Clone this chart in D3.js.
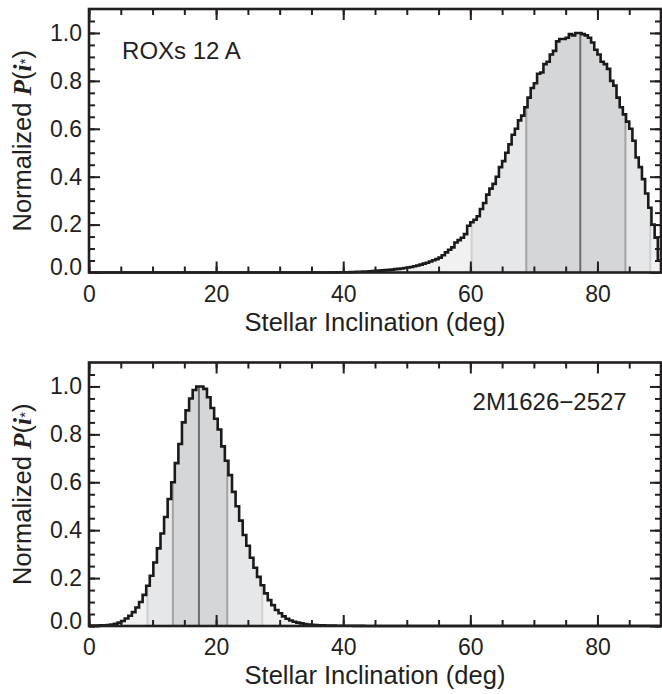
<!DOCTYPE html>
<html>
<head>
<meta charset="utf-8">
<script src="https://cdn.jsdelivr.net/npm/d3@7"></script>
<style>
  body { margin: 0; background: #fff; }
  text { font-family: "Liberation Sans", Arial, sans-serif; fill: #231f20; }
</style>
</head>
<body>
<div id="chart"></div>
<script>
// ... histogram of stellar inclination, ROXs 12 A (0.5 deg bins starting at 0 deg)
const roxBinWidth = 0.5;
const roxValues = [
  0, 0, 0, 0, 0, 0, 0, 0, 0, 0, 0, 0, 0, 0, 0, 0, 0, 0, 0, 0,
  0, 0, 0, 0, 0, 0, 0, 0, 0, 0, 0, 0, 0, 0, 0, 0, 0, 0, 0, 0,
  0, 0, 0, 0, 0, 0, 0, 0, 0, 0, 0, 0, 0, 0, 0, 0, 0, 0, 0, 0,
  0, 0, 0, 0, 0, 0, 0, 0, 0, 0, 0, 0, 0, 0, 0, 0, 0.0005, 0.0005, 0.001, 0.001,
  0.001, 0.001, 0.002, 0.002, 0.003, 0.003, 0.004, 0.004, 0.005, 0.006,
  0.007, 0.008, 0.009, 0.010, 0.011, 0.012, 0.014, 0.015, 0.017, 0.019,
  0.021, 0.023, 0.026, 0.029, 0.033, 0.037, 0.041, 0.046, 0.051, 0.056,
  0.062, 0.072, 0.084, 0.095, 0.105, 0.125, 0.135, 0.145, 0.160, 0.195,
  0.210, 0.220, 0.235, 0.265, 0.290, 0.325, 0.350, 0.370, 0.400, 0.440,
  0.465, 0.500, 0.535, 0.575, 0.600, 0.635, 0.655, 0.690, 0.730, 0.770,
  0.790, 0.830, 0.835, 0.870, 0.880, 0.910, 0.925, 0.965, 0.975, 0.975,
  0.980, 0.995, 0.990, 1.000, 1.000, 0.995, 0.990, 0.980, 0.960, 0.930,
  0.910, 0.880, 0.870, 0.850, 0.800, 0.780, 0.730, 0.690, 0.660, 0.630,
  0.600, 0.550, 0.480, 0.440, 0.390, 0.330, 0.270, 0.200, 0.145, 0.050
];
// -2 sigma, -1 sigma, median, +1 sigma, +2 sigma (deg)
const roxBounds = [60.2, 68.8, 77.3, 84.4, 88.3];

// ... histogram of stellar inclination, 2M1626-2527 (90/160 deg bins starting at 0 deg)
const twoMBinWidth = 0.5625;
const twoMValues = [
  0.002, 0.002, 0.002, 0.003, 0.003, 0.004, 0.006, 0.009, 0.014, 0.021,
  0.031, 0.043, 0.058, 0.077, 0.100, 0.130, 0.168, 0.210, 0.265, 0.324,
  0.386, 0.455, 0.530, 0.600, 0.680, 0.760, 0.850, 0.900, 0.950, 0.985,
  1.000, 1.000, 0.990, 0.955, 0.910, 0.865, 0.820, 0.750, 0.690, 0.630,
  0.560, 0.500, 0.440, 0.380, 0.335, 0.285, 0.243, 0.205, 0.170, 0.136,
  0.108, 0.087, 0.067, 0.053, 0.040, 0.030, 0.023, 0.018, 0.014, 0.011,
  0.008, 0.006, 0.005, 0.004, 0.003, 0.003, 0.002, 0.002, 0.002, 0.001,
  0.001, 0.001, 0.001, 0.001, 0.0005, 0.0005, 0.0005, 0, 0, 0,
  0, 0, 0, 0, 0, 0, 0, 0, 0, 0, 0, 0, 0, 0, 0, 0, 0, 0, 0, 0,
  0, 0, 0, 0, 0, 0, 0, 0, 0, 0, 0, 0, 0, 0, 0, 0, 0, 0, 0, 0,
  0, 0, 0, 0, 0, 0, 0, 0, 0, 0, 0, 0, 0, 0, 0, 0, 0, 0, 0, 0,
  0, 0, 0, 0, 0, 0, 0, 0, 0, 0, 0, 0, 0, 0, 0, 0, 0, 0, 0, 0
];
const twoMBounds = [9.2, 13.2, 17.3, 21.75, 27.25];

const xTicks = [0, 20, 40, 60, 80];
const yTicks = [0.0, 0.2, 0.4, 0.6, 0.8, 1.0];
const starNames = ['ROXs 12 A', '2M1626\u22122527'];
const xTitle = 'Stellar Inclination (deg)';

const W = 662, H = 694;
const margin = {left: 89, right: 1};
const width = W - margin.left - margin.right;
const height = 263.5;
const ink = '#231f20';

const svg = d3.select('#chart').append('svg')
    .attr('width', W)
    .attr('height', H);

const panels = [
    {id: 'rox', name: starNames[0], values: roxValues, binWidth: roxBinWidth, bounds: roxBounds,
     top: 9, label: [5.2, 0.893], anchor: 'start'},
    {id: 'twom', name: starNames[1], values: twoMValues, binWidth: twoMBinWidth, bounds: twoMBounds,
     top: 362.5, label: [84.6, 0.9], anchor: 'end'}
];

panels.forEach(drawPanel);

function drawPanel(p) {
    const g = svg.append('g')
        .attr('transform', 'translate(' + margin.left + ',' + p.top + ')');

    const x = d3.scaleLinear().domain([0, 90]).range([0, width]);
    const y = d3.scaleLinear().domain([0, 1.1]).range([height, 0]);

    const pts = p.values.map((v, i) => [i * p.binWidth, v]);
    pts.push([90, p.values[p.values.length - 1]]);

    const area = d3.area()
        .x(d => x(d[0]))
        .y0(y(0))
        .y1(d => y(d[1]))
        .curve(d3.curveStepAfter);

    const line = d3.line()
        .x(d => x(d[0]))
        .y(d => y(d[1]))
        .curve(d3.curveStepAfter);

    const b = p.bounds;
    const bands = [
        {from: 0, to: 90, fill: '#f1f1f2'},
        {from: b[0], to: b[4], fill: '#e6e7e8'},
        {from: b[1], to: b[3], fill: '#d5d6d8'}
    ];

    const defs = g.append('defs');
    bands.forEach((band, k) => {
        defs.append('clipPath')
            .attr('id', p.id + '-band' + k)
            .append('rect')
            .attr('x', x(band.from))
            .attr('y', 0)
            .attr('width', x(band.to) - x(band.from))
            .attr('height', height);

        g.append('path')
            .datum(pts)
            .attr('clip-path', 'url(#' + p.id + '-band' + k + ')')
            .attr('fill', band.fill)
            .attr('d', area);
    });

    // ... credible interval lines, up to the histogram
    const lineColors = ['#cfd0d2', '#a3a4a6', '#6d6e70', '#a3a4a6', '#cfd0d2'];
    b.forEach((bx, k) => {
        const v = p.values[Math.min(Math.floor(bx / p.binWidth), p.values.length - 1)];
        g.append('line')
            .attr('x1', x(bx)).attr('x2', x(bx))
            .attr('y1', y(0)).attr('y2', y(v))
            .attr('stroke', lineColors[k])
            .attr('stroke-width', 2);
    });

    g.append('path')
        .datum(pts)
        .attr('fill', 'none')
        .attr('stroke', '#1a1a1a')
        .attr('stroke-width', 2.6)
        .attr('stroke-linejoin', 'miter')
        .attr('d', line);

    // ... axes, ticks pointing inward
    const xMinor = d3.range(0, 91, 5);
    const yMinor = d3.range(0, 1.1, 0.05);

    const styleAxis = sel => {
        sel.select('.domain').remove();
        sel.selectAll('line').attr('stroke', ink).attr('stroke-width', 2);
        sel.selectAll('text').attr('fill', ink)
            .style('font-family', '"Liberation Sans", Arial, sans-serif')
            .style('font-size', '23px');
    };

    g.append('g')
        .attr('transform', 'translate(0,' + height + ')')
        .call(d3.axisBottom(x).tickValues(xMinor).tickSize(-6).tickFormat(''))
        .call(styleAxis);
    g.append('g')
        .attr('transform', 'translate(0,' + height + ')')
        .call(d3.axisBottom(x).tickValues(xTicks).tickSize(-11).tickPadding(13).tickFormat(d3.format('d')))
        .call(styleAxis);
    g.append('g')
        .call(d3.axisTop(x).tickValues(xMinor).tickSize(-6).tickFormat(''))
        .call(styleAxis);
    g.append('g')
        .call(d3.axisTop(x).tickValues(xTicks).tickSize(-11).tickFormat(''))
        .call(styleAxis);

    g.append('g')
        .call(d3.axisLeft(y).tickValues(yMinor).tickSize(-6).tickFormat(''))
        .call(styleAxis);
    const yAx = g.append('g')
        .call(d3.axisLeft(y).tickValues(yTicks).tickSize(-11).tickPadding(7).tickFormat(d3.format('.1f')))
        .call(styleAxis);
    yAx.selectAll('.tick text')
        .filter(d => d === 0)
        .attr('y', -5);
    g.append('g')
        .attr('transform', 'translate(' + width + ',0)')
        .call(d3.axisRight(y).tickValues(yMinor).tickSize(-6).tickFormat(''))
        .call(styleAxis);
    g.append('g')
        .attr('transform', 'translate(' + width + ',0)')
        .call(d3.axisRight(y).tickValues(yTicks).tickSize(-11).tickFormat(''))
        .call(styleAxis);

    g.append('rect')
        .attr('x', 0).attr('y', 0)
        .attr('width', width).attr('height', height)
        .attr('fill', 'none')
        .attr('stroke', ink)
        .attr('stroke-width', 2.6);

    // ... titles
    g.append('text')
        .attr('x', width / 2)
        .attr('y', height + 58)
        .attr('text-anchor', 'middle')
        .style('font-size', '25.5px')
        .text(xTitle);

    const yt = g.append('text')
        .attr('transform', 'translate(-58,' + (height / 2) + ') rotate(-90)')
        .attr('text-anchor', 'middle')
        .style('font-size', '25.5px');
    yt.append('tspan').text('Normalized ');
    yt.append('tspan')
        .style('font-family', '"Liberation Serif", serif')
        .style('font-style', 'italic')
        .style('font-weight', 'bold')
        .text('P');
    yt.append('tspan').text('(');
    yt.append('tspan')
        .style('font-family', '"Liberation Serif", serif')
        .style('font-style', 'italic')
        .style('font-weight', 'bold')
        .text('i');
    yt.append('tspan')
        .attr('dy', -1)
        .style('font-size', '15px')
        .text('*');
    yt.append('tspan')
        .attr('dy', 1)
        .text(')');

    g.append('text')
        .attr('x', x(p.label[0]))
        .attr('y', y(p.label[1]))
        .attr('text-anchor', p.anchor)
        .style('font-size', '24px')
        .text(p.name);
}
</script>
</body>
</html>
